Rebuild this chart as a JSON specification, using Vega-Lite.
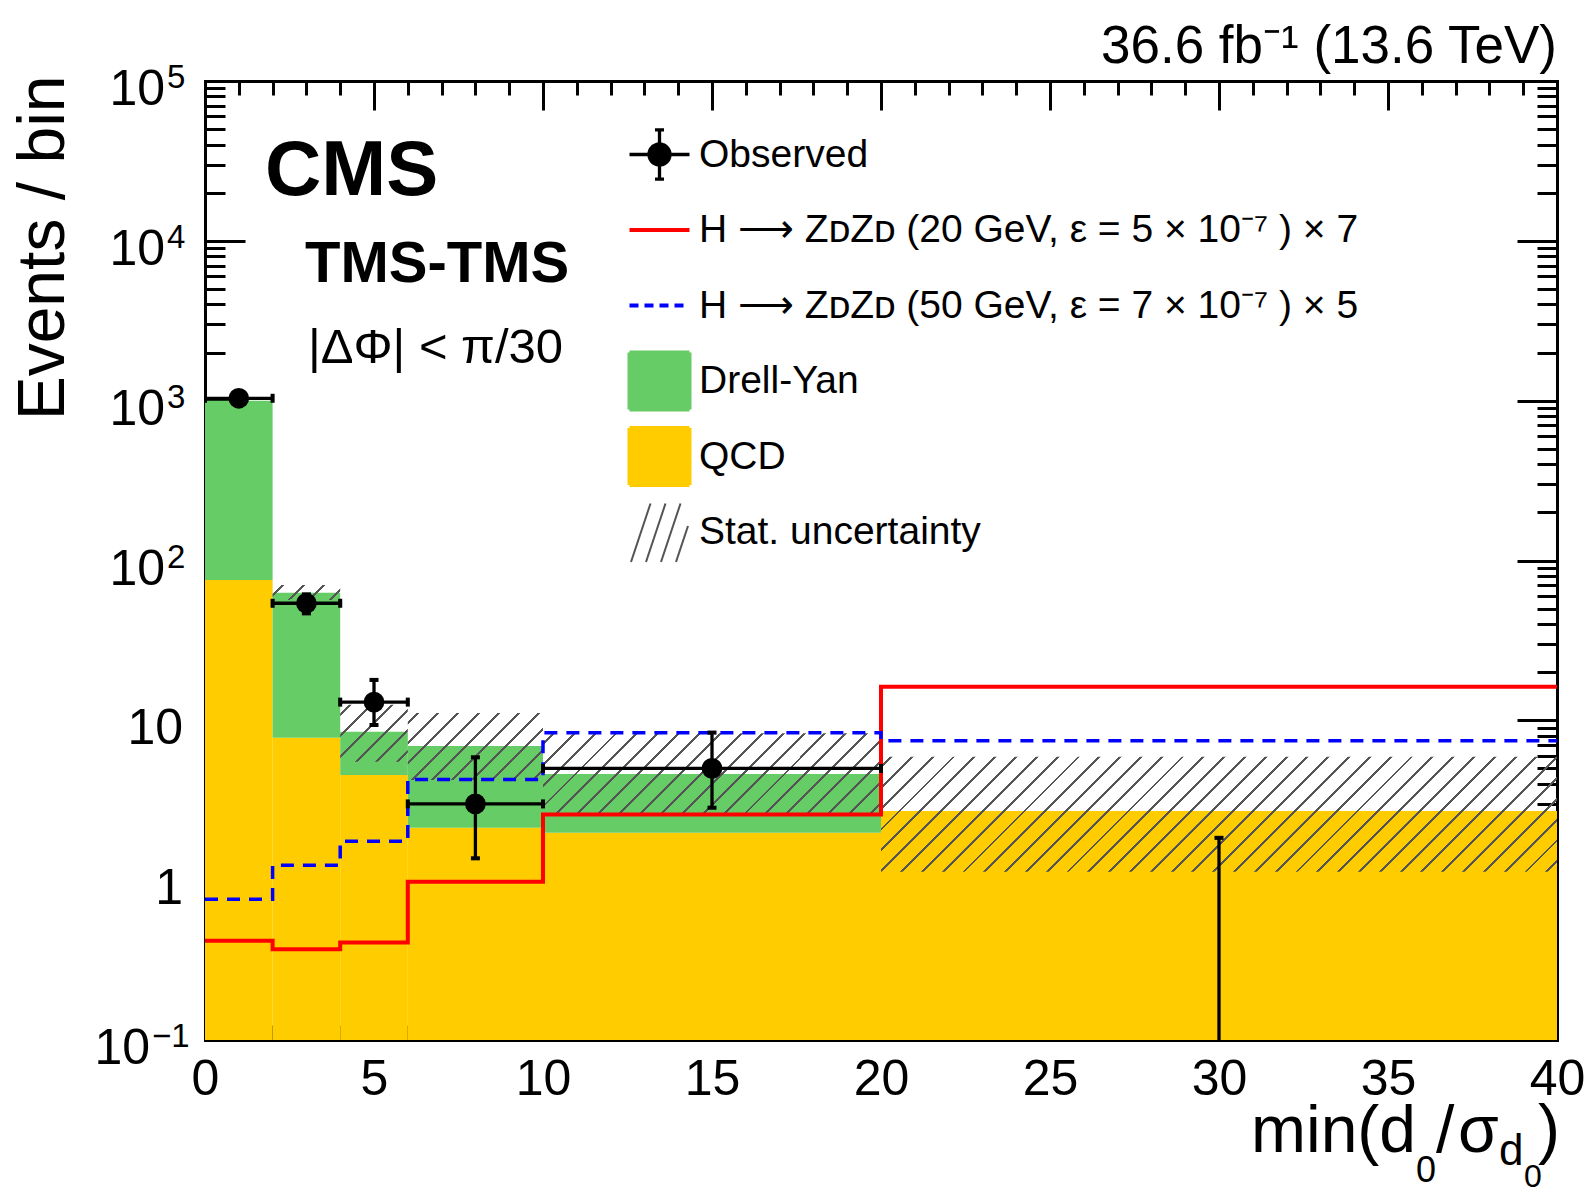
{
"$schema": "https://vega.github.io/schema/vega-lite/v6.json",
"width": 1352, "height": 959,
"autosize": {"type": "none"},
"padding": {"left": 205, "top": 81, "right": 31, "bottom": 157},
"background": "white",
"datasets": {
 "bkg": [
  {"lo": 0, "hi": 2, "qcd": 75.5, "total": 1000},
  {"lo": 2, "hi": 4, "qcd": 7.79, "total": 62.9},
  {"lo": 4, "hi": 6, "qcd": 4.55, "total": 8.49},
  {"lo": 6, "hi": 10, "qcd": 2.13, "total": 6.91},
  {"lo": 10, "hi": 20, "qcd": 1.98, "total": 4.61},
  {"lo": 20, "hi": 40, "qcd": 2.71, "total": 2.71}
 ],
 "stat": [
  {"lo": 2, "hi": 4, "down": 56.6, "up": 70.3},
  {"lo": 4, "hi": 6, "down": 5.51, "up": 12.5},
  {"lo": 6, "hi": 10, "down": 4.24, "up": 11.1},
  {"lo": 10, "hi": 20, "down": 2.62, "up": 8.29},
  {"lo": 20, "hi": 40, "down": 1.13, "up": 5.92}
 ],
 "sig": [
  {"x": 0, "s20": 0.418, "s50": 0.759},
  {"x": 2, "s20": 0.369, "s50": 1.24},
  {"x": 4, "s20": 0.408, "s50": 1.75},
  {"x": 6, "s20": 0.977, "s50": 4.27},
  {"x": 10, "s20": 2.58, "s50": 8.37},
  {"x": 20, "s20": 16.2, "s50": 7.46},
  {"x": 40, "s20": 16.2, "s50": 7.46}
 ],
 "obs": [
  {"x": 1, "lo": 0, "hi": 2, "n": 1035, "down": 1003, "up": 1067},
  {"x": 3, "lo": 2, "hi": 4, "n": 54, "down": 46.7, "up": 61.4},
  {"x": 5, "lo": 4, "hi": 6, "n": 13, "down": 9.35, "up": 17.9},
  {"x": 8, "lo": 6, "hi": 10, "n": 3, "down": 1.37, "up": 5.87},
  {"x": 15, "lo": 10, "hi": 20, "n": 5, "down": 2.84, "up": 8.38},
  {"x": 30, "lo": 20, "hi": 40, "n": 0, "down": 0, "up": 1.84}
 ],
 "ylabE": [{"v": 100000, "e": "5"}, {"v": 10000, "e": "4"}, {"v": 1000, "e": "3"}, {"v": 100, "e": "2"}],
 "ylabP": [{"v": 10, "t": "10"}, {"v": 1, "t": "1"}],
 "ylabN": [{"v": 0.1, "e": "−1"}]
},
"resolve": {"axis": {"x": "independent", "y": "independent"}},
"layer": [
 {"data": {"name": "bkg"}, "mark": {"type": "rect"},
  "encoding": {
   "x": {"field": "lo", "type": "quantitative", "scale": {"domain": [0, 40], "nice": false, "zero": false},
     "axis": {"orient": "bottom", "values": [0,5,10,15,20,25,30,35,40], "ticks": false, "domain": true, "labels": true, "labelFontSize": 50, "labelFont": "Liberation Sans", "labelPadding": 14, "labelFlush": false, "labelOverlap": false, "title": null, "format": "d"}},
   "x2": {"field": "hi"},
   "y": {"field": "qcd", "type": "quantitative", "scale": {"type": "log", "domain": [0.1, 100000], "nice": false, "clamp": true},
     "axis": {"orient": "left", "values": [0.1,1,10,100,1000,10000,100000], "ticks": false, "domain": true, "labels": false,
       "title": "Events / bin", "titleFontSize": 66, "titleFont": "Liberation Sans", "titleFontWeight": "normal", "titleAngle": 270, "titleAlign": "right", "titleBaseline": "alphabetic", "titleX": -142, "titleY": -6}},
   "y2": {"datum": 0.1},
   "color": {"datum": "QCD", "type": "nominal",
     "scale": {"domain": ["Observed", "Sig20", "Sig50", "Drell-Yan", "QCD", "Stat. uncertainty"], "range": ["#000000", "#ff0000", "#0000ff", "#66cc66", "#ffcc00", "#555555"]},
     "legend": {"orient": "none", "legendX": 435, "legendY": 54, "title": null, "direction": "vertical", "gridAlign": "all", "symbolSize": 3600, "labelFontSize": 39, "labelFont": "Liberation Sans", "labelColor": "black", "labelOffset": 20, "rowPadding": 2.5, "padding": 0, "labelLimit": 1200,
       "labelExpr": "datum.label == 'Sig20' ? 'H ⟶ ZᴅZᴅ (20 GeV, ε = 5 × 10⁻⁷ ) × 7' : datum.label == 'Sig50' ? 'H ⟶ ZᴅZᴅ (50 GeV, ε = 7 × 10⁻⁷ ) × 5' : datum.label",
       "encode": {"symbols": {"update": {
         "shape": {"signal": "datum.value == 'Observed' ? 'M-1,0H1M0,-0.82V0.82M-0.15,-0.82H0.15M-0.15,0.82H0.15M-0.35,0A0.35,0.35,0,1,0,0.35,0A0.35,0.35,0,1,0,-0.35,0Z' : (datum.value == 'Sig20' || datum.value == 'Sig50') ? 'M-1,0H1' : datum.value == 'Stat. uncertainty' ? 'M-0.95,1L-0.3,-0.95M-0.45,1L0.2,-0.95M0.05,1L0.7,-0.95M0.55,1L0.95,-0.2' : 'M-1,-0.95H1V0.95H-1Z'"},
         "fill": {"signal": "datum.value == 'Observed' ? '#000000' : datum.value == 'Drell-Yan' ? '#66cc66' : datum.value == 'QCD' ? '#ffcc00' : 'transparent'"},
         "stroke": {"signal": "datum.value == 'Observed' ? '#000000' : datum.value == 'Sig20' ? '#ff0000' : datum.value == 'Sig50' ? '#0000ff' : datum.value == 'Stat. uncertainty' ? '#555555' : 'transparent'"},
         "strokeWidth": {"signal": "datum.value == 'Observed' ? 3.3 : datum.value == 'Stat. uncertainty' ? 2 : 4"},
         "strokeDash": {"signal": "datum.value == 'Sig50' ? [9,6] : [1,0]"},
         "opacity": {"value": 1}
       }}}}}
  }},
 {"data": {"name": "bkg"}, "mark": {"type": "rect"},
  "encoding": {
   "x": {"field": "lo", "type": "quantitative", "axis": {"orient": "bottom", "values": [0,5,10,15,20,25,30,35,40], "ticks": true, "tickSize": -29, "labels": false, "domain": false, "title": null}},
   "x2": {"field": "hi"},
   "y": {"field": "total", "type": "quantitative", "axis": {"orient": "left", "values": [0.1,1,10,100,1000,10000,100000], "ticks": true, "tickSize": -40, "labels": false, "domain": false, "title": null}},
   "y2": {"field": "qcd"},
   "color": {"datum": "Drell-Yan", "type": "nominal"}
  }},
 {"data": {"name": "stat"}, "transform": [{"filter": "datum.lo == 2"}],
  "mark": {"type": "rect", "fill": {"gradient": "linear", "x1": 0, "y1": 0, "x2": 1.165, "y2": 0.2596, "stops": [
   {"offset": 0, "color": "transparent"},
   {"offset": 0.1075, "color": "transparent"}, {"offset": 0.1075, "color": "#555"}, {"offset": 0.1426, "color": "#555"}, {"offset": 0.1426, "color": "transparent"},
   {"offset": 0.3575, "color": "transparent"}, {"offset": 0.3575, "color": "#555"}, {"offset": 0.3926, "color": "#555"}, {"offset": 0.3926, "color": "transparent"},
   {"offset": 0.6075, "color": "transparent"}, {"offset": 0.6075, "color": "#555"}, {"offset": 0.6426, "color": "#555"}, {"offset": 0.6426, "color": "transparent"},
   {"offset": 0.8575, "color": "transparent"}, {"offset": 0.8575, "color": "#555"}, {"offset": 0.8926, "color": "#555"}, {"offset": 0.8926, "color": "transparent"},
   {"offset": 1, "color": "transparent"}]}},
  "encoding": {
   "x": {"field": "lo", "type": "quantitative", "axis": {"orient": "bottom", "values": [1,2,3,4,6,7,8,9,11,12,13,14,16,17,18,19,21,22,23,24,26,27,28,29,31,32,33,34,36,37,38,39], "ticks": true, "tickSize": -15, "labels": false, "domain": false, "title": null}},
   "x2": {"field": "hi"},
   "y": {"field": "up", "type": "quantitative", "axis": {"orient": "left", "values": [0.2,0.3,0.4,0.5,0.6,0.7,0.8,0.9,2,3,4,5,6,7,8,9,20,30,40,50,60,70,80,90,200,300,400,500,600,700,800,900,2000,3000,4000,5000,6000,7000,8000,9000,20000,30000,40000,50000,60000,70000,80000,90000], "ticks": true, "tickSize": -20, "labels": false, "domain": false, "title": null}},
   "y2": {"field": "down"}
  }},
 {"data": {"name": "stat"}, "transform": [{"filter": "datum.lo == 4"}],
  "mark": {"type": "rect", "fill": {"gradient": "linear", "x1": 0, "y1": 0, "x2": 1.0782, "y2": 0.9071, "stops": [
   {"offset": 0, "color": "transparent"},
   {"offset": 0.0717, "color": "transparent"}, {"offset": 0.0717, "color": "#555"}, {"offset": 0.0950, "color": "#555"}, {"offset": 0.0950, "color": "transparent"},
   {"offset": 0.2384, "color": "transparent"}, {"offset": 0.2384, "color": "#555"}, {"offset": 0.2617, "color": "#555"}, {"offset": 0.2617, "color": "transparent"},
   {"offset": 0.4050, "color": "transparent"}, {"offset": 0.4050, "color": "#555"}, {"offset": 0.4283, "color": "#555"}, {"offset": 0.4283, "color": "transparent"},
   {"offset": 0.5717, "color": "transparent"}, {"offset": 0.5717, "color": "#555"}, {"offset": 0.5950, "color": "#555"}, {"offset": 0.5950, "color": "transparent"},
   {"offset": 0.7384, "color": "transparent"}, {"offset": 0.7384, "color": "#555"}, {"offset": 0.7617, "color": "#555"}, {"offset": 0.7617, "color": "transparent"},
   {"offset": 0.9050, "color": "transparent"}, {"offset": 0.9050, "color": "#555"}, {"offset": 0.9283, "color": "#555"}, {"offset": 0.9283, "color": "transparent"},
   {"offset": 1, "color": "transparent"}]}},
  "encoding": {
   "x": {"field": "lo", "type": "quantitative", "axis": {"orient": "top", "values": [0,5,10,15,20,25,30,35,40], "ticks": true, "tickSize": -29, "labels": false, "domain": true, "title": null}},
   "x2": {"field": "hi"},
   "y": {"field": "up", "type": "quantitative", "axis": {"orient": "right", "values": [0.1,1,10,100,1000,10000,100000], "ticks": true, "tickSize": -40, "labels": false, "domain": true, "title": null}},
   "y2": {"field": "down"}
  }},
 {"data": {"name": "stat"}, "transform": [{"filter": "datum.lo == 6"}],
  "mark": {"type": "rect", "fill": {"gradient": "linear", "x1": 0, "y1": 0, "x2": 1.2009, "y2": 0.5935, "stops": [
   {"offset": 0, "color": "transparent"},
   {"offset": 0.0428, "color": "transparent"}, {"offset": 0.0428, "color": "#555"}, {"offset": 0.0572, "color": "#555"}, {"offset": 0.0572, "color": "transparent"},
   {"offset": 0.1428, "color": "transparent"}, {"offset": 0.1428, "color": "#555"}, {"offset": 0.1572, "color": "#555"}, {"offset": 0.1572, "color": "transparent"},
   {"offset": 0.2428, "color": "transparent"}, {"offset": 0.2428, "color": "#555"}, {"offset": 0.2572, "color": "#555"}, {"offset": 0.2572, "color": "transparent"},
   {"offset": 0.3428, "color": "transparent"}, {"offset": 0.3428, "color": "#555"}, {"offset": 0.3572, "color": "#555"}, {"offset": 0.3572, "color": "transparent"},
   {"offset": 0.4428, "color": "transparent"}, {"offset": 0.4428, "color": "#555"}, {"offset": 0.4572, "color": "#555"}, {"offset": 0.4572, "color": "transparent"},
   {"offset": 0.5428, "color": "transparent"}, {"offset": 0.5428, "color": "#555"}, {"offset": 0.5572, "color": "#555"}, {"offset": 0.5572, "color": "transparent"},
   {"offset": 0.6428, "color": "transparent"}, {"offset": 0.6428, "color": "#555"}, {"offset": 0.6572, "color": "#555"}, {"offset": 0.6572, "color": "transparent"},
   {"offset": 0.7428, "color": "transparent"}, {"offset": 0.7428, "color": "#555"}, {"offset": 0.7572, "color": "#555"}, {"offset": 0.7572, "color": "transparent"},
   {"offset": 0.8428, "color": "transparent"}, {"offset": 0.8428, "color": "#555"}, {"offset": 0.8572, "color": "#555"}, {"offset": 0.8572, "color": "transparent"},
   {"offset": 0.9428, "color": "transparent"}, {"offset": 0.9428, "color": "#555"}, {"offset": 0.9572, "color": "#555"}, {"offset": 0.9572, "color": "transparent"},
   {"offset": 1, "color": "transparent"}]}},
  "encoding": {
   "x": {"field": "lo", "type": "quantitative", "axis": {"orient": "top", "values": [1,2,3,4,6,7,8,9,11,12,13,14,16,17,18,19,21,22,23,24,26,27,28,29,31,32,33,34,36,37,38,39], "ticks": true, "tickSize": -14, "labels": false, "domain": false, "title": null}},
   "x2": {"field": "hi"},
   "y": {"field": "up", "type": "quantitative", "axis": {"orient": "right", "values": [0.2,0.3,0.4,0.5,0.6,0.7,0.8,0.9,2,3,4,5,6,7,8,9,20,30,40,50,60,70,80,90,200,300,400,500,600,700,800,900,2000,3000,4000,5000,6000,7000,8000,9000,20000,30000,40000,50000,60000,70000,80000,90000], "ticks": true, "tickSize": -20, "labels": false, "domain": false, "title": null}},
   "y2": {"field": "down"}
  }},
 {"data": {"name": "stat"}, "transform": [{"filter": "datum.lo == 10"}],
  "mark": {"type": "rect", "fill": {"gradient": "linear", "x1": 0, "y1": 0, "x2": 1.1710, "y2": 0.2769, "stops": [
   {"offset": 0, "color": "transparent"},
   {"offset": 0.0215, "color": "transparent"}, {"offset": 0.0215, "color": "#555"}, {"offset": 0.0285, "color": "#555"}, {"offset": 0.0285, "color": "transparent"},
   {"offset": 0.0715, "color": "transparent"}, {"offset": 0.0715, "color": "#555"}, {"offset": 0.0785, "color": "#555"}, {"offset": 0.0785, "color": "transparent"},
   {"offset": 0.1215, "color": "transparent"}, {"offset": 0.1215, "color": "#555"}, {"offset": 0.1285, "color": "#555"}, {"offset": 0.1285, "color": "transparent"},
   {"offset": 0.1715, "color": "transparent"}, {"offset": 0.1715, "color": "#555"}, {"offset": 0.1785, "color": "#555"}, {"offset": 0.1785, "color": "transparent"},
   {"offset": 0.2215, "color": "transparent"}, {"offset": 0.2215, "color": "#555"}, {"offset": 0.2285, "color": "#555"}, {"offset": 0.2285, "color": "transparent"},
   {"offset": 0.2715, "color": "transparent"}, {"offset": 0.2715, "color": "#555"}, {"offset": 0.2785, "color": "#555"}, {"offset": 0.2785, "color": "transparent"},
   {"offset": 0.3215, "color": "transparent"}, {"offset": 0.3215, "color": "#555"}, {"offset": 0.3285, "color": "#555"}, {"offset": 0.3285, "color": "transparent"},
   {"offset": 0.3715, "color": "transparent"}, {"offset": 0.3715, "color": "#555"}, {"offset": 0.3785, "color": "#555"}, {"offset": 0.3785, "color": "transparent"},
   {"offset": 0.4215, "color": "transparent"}, {"offset": 0.4215, "color": "#555"}, {"offset": 0.4285, "color": "#555"}, {"offset": 0.4285, "color": "transparent"},
   {"offset": 0.4715, "color": "transparent"}, {"offset": 0.4715, "color": "#555"}, {"offset": 0.4785, "color": "#555"}, {"offset": 0.4785, "color": "transparent"},
   {"offset": 0.5215, "color": "transparent"}, {"offset": 0.5215, "color": "#555"}, {"offset": 0.5285, "color": "#555"}, {"offset": 0.5285, "color": "transparent"},
   {"offset": 0.5715, "color": "transparent"}, {"offset": 0.5715, "color": "#555"}, {"offset": 0.5785, "color": "#555"}, {"offset": 0.5785, "color": "transparent"},
   {"offset": 0.6215, "color": "transparent"}, {"offset": 0.6215, "color": "#555"}, {"offset": 0.6285, "color": "#555"}, {"offset": 0.6285, "color": "transparent"},
   {"offset": 0.6715, "color": "transparent"}, {"offset": 0.6715, "color": "#555"}, {"offset": 0.6785, "color": "#555"}, {"offset": 0.6785, "color": "transparent"},
   {"offset": 0.7215, "color": "transparent"}, {"offset": 0.7215, "color": "#555"}, {"offset": 0.7285, "color": "#555"}, {"offset": 0.7285, "color": "transparent"},
   {"offset": 0.7715, "color": "transparent"}, {"offset": 0.7715, "color": "#555"}, {"offset": 0.7785, "color": "#555"}, {"offset": 0.7785, "color": "transparent"},
   {"offset": 0.8215, "color": "transparent"}, {"offset": 0.8215, "color": "#555"}, {"offset": 0.8285, "color": "#555"}, {"offset": 0.8285, "color": "transparent"},
   {"offset": 0.8715, "color": "transparent"}, {"offset": 0.8715, "color": "#555"}, {"offset": 0.8785, "color": "#555"}, {"offset": 0.8785, "color": "transparent"},
   {"offset": 0.9215, "color": "transparent"}, {"offset": 0.9215, "color": "#555"}, {"offset": 0.9285, "color": "#555"}, {"offset": 0.9285, "color": "transparent"},
   {"offset": 0.9715, "color": "transparent"}, {"offset": 0.9715, "color": "#555"}, {"offset": 0.9785, "color": "#555"}, {"offset": 0.9785, "color": "transparent"},
   {"offset": 1, "color": "transparent"}]}},
  "encoding": {
   "x": {"field": "lo", "type": "quantitative", "axis": null},
   "x2": {"field": "hi"},
   "y": {"field": "up", "type": "quantitative", "axis": null},
   "y2": {"field": "down"}
  }},
 {"data": {"name": "stat"}, "transform": [{"filter": "datum.lo == 20"}],
  "mark": {"type": "rect", "fill": {"gradient": "linear", "x1": 0, "y1": 0, "x2": 1.1372, "y2": 0.1934, "stops": [
   {"offset": 0, "color": "transparent"},
   {"offset": 0.0113, "color": "transparent"}, {"offset": 0.0113, "color": "#555"}, {"offset": 0.0150, "color": "#555"}, {"offset": 0.0150, "color": "transparent"},
   {"offset": 0.0376, "color": "transparent"}, {"offset": 0.0376, "color": "#555"}, {"offset": 0.0413, "color": "#555"}, {"offset": 0.0413, "color": "transparent"},
   {"offset": 0.0640, "color": "transparent"}, {"offset": 0.0640, "color": "#555"}, {"offset": 0.0676, "color": "#555"}, {"offset": 0.0676, "color": "transparent"},
   {"offset": 0.0903, "color": "transparent"}, {"offset": 0.0903, "color": "#555"}, {"offset": 0.0939, "color": "#555"}, {"offset": 0.0939, "color": "transparent"},
   {"offset": 0.1166, "color": "transparent"}, {"offset": 0.1166, "color": "#555"}, {"offset": 0.1203, "color": "#555"}, {"offset": 0.1203, "color": "transparent"},
   {"offset": 0.1429, "color": "transparent"}, {"offset": 0.1429, "color": "#555"}, {"offset": 0.1466, "color": "#555"}, {"offset": 0.1466, "color": "transparent"},
   {"offset": 0.1692, "color": "transparent"}, {"offset": 0.1692, "color": "#555"}, {"offset": 0.1729, "color": "#555"}, {"offset": 0.1729, "color": "transparent"},
   {"offset": 0.1955, "color": "transparent"}, {"offset": 0.1955, "color": "#555"}, {"offset": 0.1992, "color": "#555"}, {"offset": 0.1992, "color": "transparent"},
   {"offset": 0.2218, "color": "transparent"}, {"offset": 0.2218, "color": "#555"}, {"offset": 0.2255, "color": "#555"}, {"offset": 0.2255, "color": "transparent"},
   {"offset": 0.2482, "color": "transparent"}, {"offset": 0.2482, "color": "#555"}, {"offset": 0.2518, "color": "#555"}, {"offset": 0.2518, "color": "transparent"},
   {"offset": 0.2745, "color": "transparent"}, {"offset": 0.2745, "color": "#555"}, {"offset": 0.2782, "color": "#555"}, {"offset": 0.2782, "color": "transparent"},
   {"offset": 0.3008, "color": "transparent"}, {"offset": 0.3008, "color": "#555"}, {"offset": 0.3045, "color": "#555"}, {"offset": 0.3045, "color": "transparent"},
   {"offset": 0.3271, "color": "transparent"}, {"offset": 0.3271, "color": "#555"}, {"offset": 0.3308, "color": "#555"}, {"offset": 0.3308, "color": "transparent"},
   {"offset": 0.3534, "color": "transparent"}, {"offset": 0.3534, "color": "#555"}, {"offset": 0.3571, "color": "#555"}, {"offset": 0.3571, "color": "transparent"},
   {"offset": 0.3797, "color": "transparent"}, {"offset": 0.3797, "color": "#555"}, {"offset": 0.3834, "color": "#555"}, {"offset": 0.3834, "color": "transparent"},
   {"offset": 0.4061, "color": "transparent"}, {"offset": 0.4061, "color": "#555"}, {"offset": 0.4097, "color": "#555"}, {"offset": 0.4097, "color": "transparent"},
   {"offset": 0.4324, "color": "transparent"}, {"offset": 0.4324, "color": "#555"}, {"offset": 0.4360, "color": "#555"}, {"offset": 0.4360, "color": "transparent"},
   {"offset": 0.4587, "color": "transparent"}, {"offset": 0.4587, "color": "#555"}, {"offset": 0.4624, "color": "#555"}, {"offset": 0.4624, "color": "transparent"},
   {"offset": 0.4850, "color": "transparent"}, {"offset": 0.4850, "color": "#555"}, {"offset": 0.4887, "color": "#555"}, {"offset": 0.4887, "color": "transparent"},
   {"offset": 0.5113, "color": "transparent"}, {"offset": 0.5113, "color": "#555"}, {"offset": 0.5150, "color": "#555"}, {"offset": 0.5150, "color": "transparent"},
   {"offset": 0.5376, "color": "transparent"}, {"offset": 0.5376, "color": "#555"}, {"offset": 0.5413, "color": "#555"}, {"offset": 0.5413, "color": "transparent"},
   {"offset": 0.5640, "color": "transparent"}, {"offset": 0.5640, "color": "#555"}, {"offset": 0.5676, "color": "#555"}, {"offset": 0.5676, "color": "transparent"},
   {"offset": 0.5903, "color": "transparent"}, {"offset": 0.5903, "color": "#555"}, {"offset": 0.5939, "color": "#555"}, {"offset": 0.5939, "color": "transparent"},
   {"offset": 0.6166, "color": "transparent"}, {"offset": 0.6166, "color": "#555"}, {"offset": 0.6203, "color": "#555"}, {"offset": 0.6203, "color": "transparent"},
   {"offset": 0.6429, "color": "transparent"}, {"offset": 0.6429, "color": "#555"}, {"offset": 0.6466, "color": "#555"}, {"offset": 0.6466, "color": "transparent"},
   {"offset": 0.6692, "color": "transparent"}, {"offset": 0.6692, "color": "#555"}, {"offset": 0.6729, "color": "#555"}, {"offset": 0.6729, "color": "transparent"},
   {"offset": 0.6955, "color": "transparent"}, {"offset": 0.6955, "color": "#555"}, {"offset": 0.6992, "color": "#555"}, {"offset": 0.6992, "color": "transparent"},
   {"offset": 0.7218, "color": "transparent"}, {"offset": 0.7218, "color": "#555"}, {"offset": 0.7255, "color": "#555"}, {"offset": 0.7255, "color": "transparent"},
   {"offset": 0.7482, "color": "transparent"}, {"offset": 0.7482, "color": "#555"}, {"offset": 0.7518, "color": "#555"}, {"offset": 0.7518, "color": "transparent"},
   {"offset": 0.7745, "color": "transparent"}, {"offset": 0.7745, "color": "#555"}, {"offset": 0.7782, "color": "#555"}, {"offset": 0.7782, "color": "transparent"},
   {"offset": 0.8008, "color": "transparent"}, {"offset": 0.8008, "color": "#555"}, {"offset": 0.8045, "color": "#555"}, {"offset": 0.8045, "color": "transparent"},
   {"offset": 0.8271, "color": "transparent"}, {"offset": 0.8271, "color": "#555"}, {"offset": 0.8308, "color": "#555"}, {"offset": 0.8308, "color": "transparent"},
   {"offset": 0.8534, "color": "transparent"}, {"offset": 0.8534, "color": "#555"}, {"offset": 0.8571, "color": "#555"}, {"offset": 0.8571, "color": "transparent"},
   {"offset": 0.8797, "color": "transparent"}, {"offset": 0.8797, "color": "#555"}, {"offset": 0.8834, "color": "#555"}, {"offset": 0.8834, "color": "transparent"},
   {"offset": 0.9061, "color": "transparent"}, {"offset": 0.9061, "color": "#555"}, {"offset": 0.9097, "color": "#555"}, {"offset": 0.9097, "color": "transparent"},
   {"offset": 0.9324, "color": "transparent"}, {"offset": 0.9324, "color": "#555"}, {"offset": 0.9360, "color": "#555"}, {"offset": 0.9360, "color": "transparent"},
   {"offset": 0.9587, "color": "transparent"}, {"offset": 0.9587, "color": "#555"}, {"offset": 0.9624, "color": "#555"}, {"offset": 0.9624, "color": "transparent"},
   {"offset": 0.9850, "color": "transparent"}, {"offset": 0.9850, "color": "#555"}, {"offset": 0.9887, "color": "#555"}, {"offset": 0.9887, "color": "transparent"},
   {"offset": 1, "color": "transparent"}]}},
  "encoding": {
   "x": {"field": "lo", "type": "quantitative", "axis": null},
   "x2": {"field": "hi"},
   "y": {"field": "up", "type": "quantitative", "axis": null},
   "y2": {"field": "down"}
  }},
 {"data": {"name": "sig"}, "mark": {"type": "line", "interpolate": "step-after", "strokeWidth": 4, "clip": true},
  "encoding": {
   "x": {"field": "x", "type": "quantitative", "axis": null},
   "y": {"field": "s20", "type": "quantitative", "axis": null},
   "color": {"datum": "Sig20", "type": "nominal"}
  }},
 {"data": {"name": "sig"}, "mark": {"type": "line", "interpolate": "step-after", "strokeWidth": 3.5, "strokeDash": [13, 9], "clip": true},
  "encoding": {
   "x": {"field": "x", "type": "quantitative", "axis": null},
   "y": {"field": "s50", "type": "quantitative", "axis": null},
   "color": {"datum": "Sig50", "type": "nominal"}
  }},
 {"data": {"name": "obs"}, "mark": {"type": "rule", "strokeWidth": 3.3, "color": "black", "clip": true, "invalid": "show"},
  "encoding": {
   "x": {"field": "x", "type": "quantitative", "axis": null},
   "y": {"field": "up", "type": "quantitative", "axis": null},
   "y2": {"field": "down"}
  }},
 {"data": {"name": "obs"}, "transform": [{"filter": "datum.n > 0"}], "mark": {"type": "rule", "strokeWidth": 3.3, "color": "black", "clip": true},
  "encoding": {
   "x": {"field": "lo", "type": "quantitative", "axis": null},
   "x2": {"field": "hi"},
   "y": {"field": "n", "type": "quantitative", "axis": null}
  }},
 {"data": {"name": "obs"}, "mark": {"type": "point", "shape": "M-1,-0.45H1V0.45H-1Z", "size": 81, "filled": true, "color": "black", "opacity": 1, "clip": true},
  "encoding": {
   "x": {"field": "x", "type": "quantitative", "axis": null},
   "y": {"field": "up", "type": "quantitative", "axis": null}
  }},
 {"data": {"name": "obs"}, "transform": [{"filter": "datum.down > 0"}], "mark": {"type": "point", "shape": "M-1,-0.45H1V0.45H-1Z", "size": 81, "filled": true, "color": "black", "opacity": 1, "clip": true},
  "encoding": {
   "x": {"field": "x", "type": "quantitative", "axis": null},
   "y": {"field": "down", "type": "quantitative", "axis": null}
  }},
 {"data": {"name": "obs"}, "transform": [{"filter": "datum.n > 0"}], "mark": {"type": "point", "shape": "M-0.45,-1H0.45V1H-0.45Z", "size": 81, "filled": true, "color": "black", "opacity": 1, "clip": true},
  "encoding": {
   "x": {"field": "lo", "type": "quantitative", "axis": null},
   "y": {"field": "n", "type": "quantitative", "axis": null}
  }},
 {"data": {"name": "obs"}, "transform": [{"filter": "datum.n > 0"}], "mark": {"type": "point", "shape": "M-0.45,-1H0.45V1H-0.45Z", "size": 81, "filled": true, "color": "black", "opacity": 1, "clip": true},
  "encoding": {
   "x": {"field": "hi", "type": "quantitative", "axis": null},
   "y": {"field": "n", "type": "quantitative", "axis": null}
  }},
 {"data": {"name": "obs"}, "transform": [{"filter": "datum.n > 0"}], "mark": {"type": "point", "shape": "circle", "size": 430, "filled": true, "opacity": 1, "clip": true},
  "encoding": {
   "x": {"field": "x", "type": "quantitative", "axis": null},
   "y": {"field": "n", "type": "quantitative", "axis": null},
   "color": {"datum": "Observed", "type": "nominal"}
  }},
 {"data": {"name": "ylabE"}, "mark": {"type": "text", "align": "right", "baseline": "alphabetic", "font": "Liberation Sans", "fontSize": 50, "color": "black", "dx": -40, "dy": 24, "text": "10"},
  "encoding": {"x": {"datum": 0, "type": "quantitative", "axis": null}, "y": {"field": "v", "type": "quantitative", "axis": null}}},
 {"data": {"name": "ylabE"}, "mark": {"type": "text", "align": "left", "baseline": "alphabetic", "font": "Liberation Sans", "fontSize": 33, "color": "black", "dx": -38, "dy": 7},
  "encoding": {"x": {"datum": 0, "type": "quantitative", "axis": null}, "y": {"field": "v", "type": "quantitative", "axis": null}, "text": {"field": "e"}}},
 {"data": {"name": "ylabP"}, "mark": {"type": "text", "align": "right", "baseline": "alphabetic", "font": "Liberation Sans", "fontSize": 50, "color": "black", "dx": -22, "dy": 24},
  "encoding": {"x": {"datum": 0, "type": "quantitative", "axis": null}, "y": {"field": "v", "type": "quantitative", "axis": null}, "text": {"field": "t"}}},
 {"data": {"name": "ylabN"}, "mark": {"type": "text", "align": "right", "baseline": "alphabetic", "font": "Liberation Sans", "fontSize": 50, "color": "black", "dx": -55, "dy": 24, "text": "10"},
  "encoding": {"x": {"datum": 0, "type": "quantitative", "axis": null}, "y": {"field": "v", "type": "quantitative", "axis": null}}},
 {"data": {"name": "ylabN"}, "mark": {"type": "text", "align": "left", "baseline": "alphabetic", "font": "Liberation Sans", "fontSize": 33, "color": "black", "dx": -53, "dy": 7},
  "encoding": {"x": {"datum": 0, "type": "quantitative", "axis": null}, "y": {"field": "v", "type": "quantitative", "axis": null}, "text": {"field": "e"}}},
 {"data": {"values": [{"t": "36.6 fb⁻¹ (13.6 TeV)"}]}, "mark": {"type": "text", "align": "right", "baseline": "alphabetic", "font": "Liberation Sans", "fontSize": 53, "color": "black", "dy": -18},
  "encoding": {"x": {"datum": 40, "type": "quantitative", "axis": null}, "y": {"datum": 100000, "type": "quantitative", "axis": null}, "text": {"field": "t"}}},
 {"data": {"values": [{"t": "CMS"}]}, "mark": {"type": "text", "align": "left", "baseline": "alphabetic", "font": "Liberation Sans", "fontWeight": "bold", "fontSize": 78, "color": "black"},
  "encoding": {"x": {"datum": 1.775, "type": "quantitative", "axis": null}, "y": {"datum": 19350, "type": "quantitative", "axis": null}, "text": {"field": "t"}}},
 {"data": {"values": [{"t": "TMS-TMS"}]}, "mark": {"type": "text", "align": "left", "baseline": "alphabetic", "font": "Liberation Sans", "fontWeight": "bold", "fontSize": 58, "color": "black"},
  "encoding": {"x": {"datum": 2.959, "type": "quantitative", "axis": null}, "y": {"datum": 5527, "type": "quantitative", "axis": null}, "text": {"field": "t"}}},
 {"data": {"values": [{"t": "|ΔΦ| < π/30"}]}, "mark": {"type": "text", "align": "left", "baseline": "alphabetic", "font": "Liberation Sans", "fontSize": 49, "color": "black"},
  "encoding": {"x": {"datum": 3.047, "type": "quantitative", "axis": null}, "y": {"datum": 1720, "type": "quantitative", "axis": null}, "text": {"field": "t"}}},
 {"data": {"values": [{"t": "min(d"}]}, "mark": {"type": "text", "align": "left", "baseline": "alphabetic", "font": "Liberation Sans", "fontSize": 66, "color": "black", "dx": -306, "dy": 112},
  "encoding": {"x": {"datum": 40, "type": "quantitative", "axis": null}, "y": {"datum": 0.1, "type": "quantitative", "axis": null}, "text": {"field": "t"}}},
 {"data": {"values": [{"t": "0"}]}, "mark": {"type": "text", "align": "left", "baseline": "alphabetic", "font": "Liberation Sans", "fontSize": 36, "color": "black", "dx": -141, "dy": 142},
  "encoding": {"x": {"datum": 40, "type": "quantitative", "axis": null}, "y": {"datum": 0.1, "type": "quantitative", "axis": null}, "text": {"field": "t"}}},
 {"data": {"values": [{"t": "/"}]}, "mark": {"type": "text", "align": "left", "baseline": "alphabetic", "font": "Liberation Sans", "fontSize": 66, "color": "black", "dx": -121, "dy": 112},
  "encoding": {"x": {"datum": 40, "type": "quantitative", "axis": null}, "y": {"datum": 0.1, "type": "quantitative", "axis": null}, "text": {"field": "t"}}},
 {"data": {"values": [{"t": "σ"}]}, "mark": {"type": "text", "align": "left", "baseline": "alphabetic", "font": "Liberation Sans", "fontSize": 66, "color": "black", "dx": -99, "dy": 112},
  "encoding": {"x": {"datum": 40, "type": "quantitative", "axis": null}, "y": {"datum": 0.1, "type": "quantitative", "axis": null}, "text": {"field": "t"}}},
 {"data": {"values": [{"t": "d"}]}, "mark": {"type": "text", "align": "left", "baseline": "alphabetic", "font": "Liberation Sans", "fontSize": 44, "color": "black", "dx": -58, "dy": 125},
  "encoding": {"x": {"datum": 40, "type": "quantitative", "axis": null}, "y": {"datum": 0.1, "type": "quantitative", "axis": null}, "text": {"field": "t"}}},
 {"data": {"values": [{"t": "0"}]}, "mark": {"type": "text", "align": "left", "baseline": "alphabetic", "font": "Liberation Sans", "fontSize": 32, "color": "black", "dx": -33, "dy": 147},
  "encoding": {"x": {"datum": 40, "type": "quantitative", "axis": null}, "y": {"datum": 0.1, "type": "quantitative", "axis": null}, "text": {"field": "t"}}},
 {"data": {"values": [{"t": ")"}]}, "mark": {"type": "text", "align": "left", "baseline": "alphabetic", "font": "Liberation Sans", "fontSize": 66, "color": "black", "dx": -19, "dy": 111},
  "encoding": {"x": {"datum": 40, "type": "quantitative", "axis": null}, "y": {"datum": 0.1, "type": "quantitative", "axis": null}, "text": {"field": "t"}}}
],
"config": {"view": {"stroke": null}, "font": "Liberation Sans",
 "axis": {"grid": false, "domainColor": "black", "tickColor": "black", "domainWidth": 3, "tickWidth": 3, "labelColor": "black", "titleColor": "black", "domainCap": "square"}}
}
